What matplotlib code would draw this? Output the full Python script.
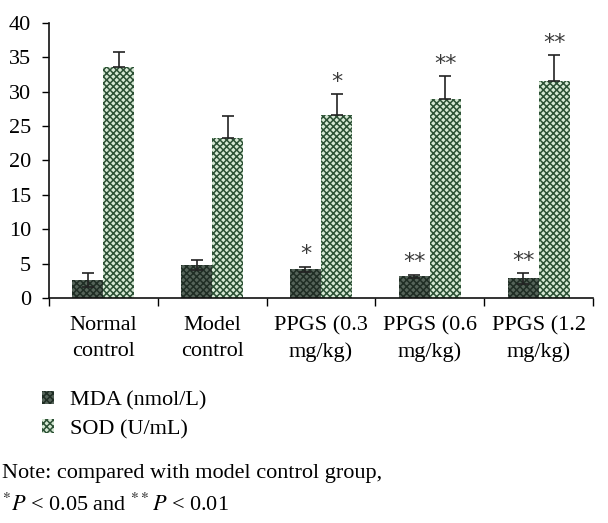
import matplotlib
matplotlib.use("Agg")
import matplotlib.pyplot as plt
import numpy as np
from matplotlib.patches import Patch

categories = ["Normal\ncontrol", "Model\ncontrol", "PPGS (0.3\nmg/kg)", "PPGS (0.6\nmg/kg)", "PPGS (1.2\nmg/kg)"]
mda = [2.6, 4.8, 4.2, 3.15, 2.85]
mda_err = [1.0, 0.7, 0.35, 0.25, 0.75]
sod = [33.6, 23.3, 26.6, 28.9, 31.6]
sod_err = [2.1, 3.1, 3.0, 3.3, 3.7]
mda_sig = ["", "", "*", "**", "**"]
sod_sig = ["", "", "*", "**", "**"]
series_names = ["MDA (nmol/L)", "SOD (U/mL)"]
yticks = [0, 5, 10, 15, 20, 25, 30, 35, 40]

plt.rcParams['font.family'] = ['Liberation Serif', 'DejaVu Serif']
plt.rcParams['mathtext.fontset'] = 'stix'
plt.rcParams['hatch.linewidth'] = 1.1

fig = plt.figure(figsize=(6.08, 5.23), dpi=100)
ax = fig.add_axes([49/608, 1-298/523, (593-49)/608, (298-22.7)/523])

x = np.arange(len(categories))
w = 0.285
mda_fc, mda_ec = '#56645a', '#1f2d24'
sod_fc, sod_ec = '#d6e8d4', '#2c5035'

ax.bar(x - w/2, mda, w, color=mda_fc, edgecolor=mda_ec, hatch='xxxxx', linewidth=0)
ax.bar(x + w/2, sod, w, color=sod_fc, edgecolor=sod_ec, hatch='xxxxx', linewidth=0)
ax.errorbar(x - w/2, mda, yerr=mda_err, fmt='none', ecolor='#222222', elinewidth=1.2, capsize=4, capthick=1.2)
ax.errorbar(x + w/2, sod, yerr=[np.zeros(len(sod)), sod_err], fmt='none', ecolor='#222222',
            elinewidth=1.2, capsize=4, capthick=1.2)

for i in range(len(categories)):
    if mda_sig[i]:
        ax.text(x[i] - w/2, mda[i] + mda_err[i] + 0.9, mda_sig[i], ha='center', va='baseline',
                fontsize=16, family='DejaVu Sans', color='#3a3a3a')
    if sod_sig[i]:
        ax.text(x[i] + w/2, sod[i] + sod_err[i] + 0.9, sod_sig[i], ha='center', va='baseline',
                fontsize=16, family='DejaVu Sans', color='#3a3a3a')

ax.set_ylim(0, 40)
ax.set_xlim(-0.5, len(categories) - 0.5)
ax.set_yticks(yticks)
ax.tick_params(axis='y', labelsize=16, length=5, width=1, direction='out', pad=8)
ax.set_xticks(np.arange(len(categories) + 1) - 0.5)
ax.set_xticklabels([])
ax.tick_params(axis='x', length=6, width=1, direction='out')
ax.set_xticks(x, minor=True)
ax.set_xticklabels(categories, minor=True, fontsize=16, linespacing=1.5)
ax.tick_params(axis='x', which='minor', length=0, pad=13)
for s in ['top', 'right']:
    ax.spines[s].set_visible(False)
for s in ['left', 'bottom']:
    ax.spines[s].set_linewidth(1.2)
    ax.spines[s].set_color('#111111')

handles = [Patch(facecolor=mda_fc, edgecolor=mda_ec, hatch='xxxxx', linewidth=0),
           Patch(facecolor=sod_fc, edgecolor=sod_ec, hatch='xxxxx', linewidth=0)]
fig.legend(handles, series_names, loc='upper left', bbox_to_anchor=(42/608, 1-391/523),
           frameon=False, fontsize=16, handlelength=0.55, handleheight=0.55,
           handletextpad=0.7, labelspacing=0.4, borderaxespad=0, borderpad=0)

fig.text(2/608, 1-478/523, "Note: compared with model control group,", fontsize=16, va='baseline', ha='left')
fig.text(2/608, 1-511/523, "$^{*}\\mathit{P}$ < 0.05 and $^{**}\\mathit{P}$ < 0.01", fontsize=16,
         va='baseline', ha='left')

fig.savefig("out.png", dpi=100)
